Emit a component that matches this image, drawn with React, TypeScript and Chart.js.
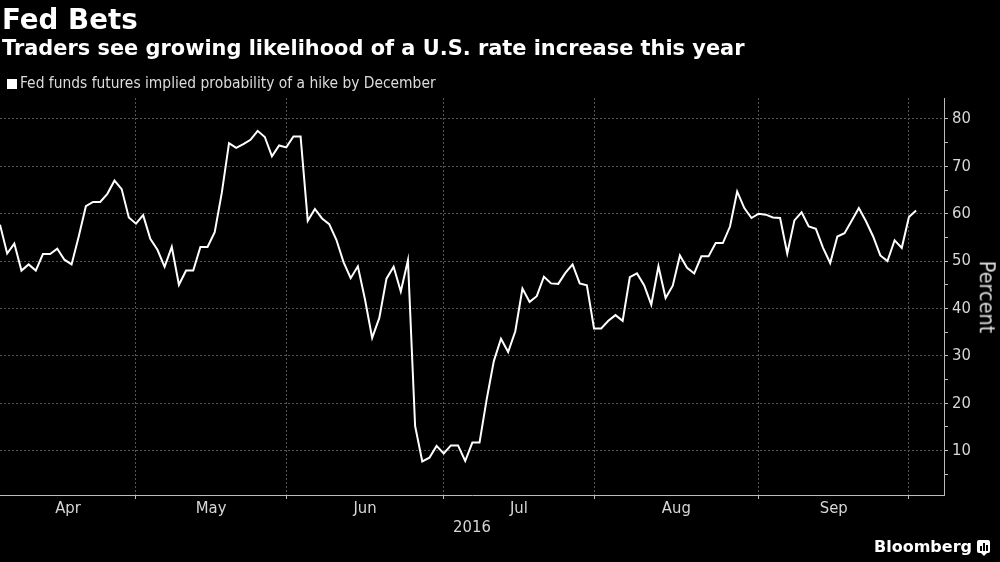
import React, { useEffect, useRef } from 'react';
import { Chart, registerables } from 'chart.js';

Chart.register(...registerables);

// Fed funds futures implied probability of a hike by December (%), one value per trading day
const probability = [
  57.7, 51.6, 53.7, 48.0, 49.3, 48.0, 51.5, 51.5, 52.6, 50.3,
  49.3, 55.2, 61.6, 62.5, 62.5, 64.2, 67.0, 65.2, 59.2, 57.9,
  59.7, 54.7, 52.4, 48.8, 53.0, 45.0, 48.0, 48.0, 53.0, 53.0,
  56.1, 64.5, 74.9, 73.9, 74.7, 75.6, 77.5, 76.2, 72.1, 74.4,
  74.0, 76.3, 76.3, 58.5, 61.0, 59.0, 57.8, 54.5, 49.8, 46.4,
  48.9, 41.9, 33.8, 38.0, 46.3, 48.8, 43.6, 50.2, 15.2, 7.7,
  8.5, 11.0, 9.4, 11.1, 11.1, 7.8, 11.7, 11.7, 20.8, 28.9,
  33.6, 30.8, 35.2, 44.2, 41.4, 42.6, 46.7, 45.3, 45.2, 47.5,
  49.3, 45.3, 44.9, 35.8, 35.8, 37.4, 38.6, 37.4, 46.6, 47.4,
  44.9, 40.8, 48.9, 42.2, 44.8, 51.2, 48.6, 47.4, 51.0, 51.0,
  53.8, 53.8, 57.3, 64.7, 61.2, 59.1, 60.0, 59.8, 59.2, 59.1,
  51.6, 58.6, 60.3, 57.3, 56.8, 52.8, 49.6, 55.2, 55.9, 58.5,
  61.2, 58.4, 55.2, 51.2, 50.0, 54.4, 52.8, 59.3, 60.7,
];

// Month labels and their positions (in trading-day index units)
const monthLabels = ['Apr', 'May', 'Jun', 'Jul', 'Aug', 'Sep'];
const monthCenters = [9.5, 29.5, 51, 72.5, 94.5, 116.5];
const monthBoundaries = [19, 40, 62, 83, 106, 127];
const yearLabel = '2016';

// Y axis ticks: labels every 10, minor marks every 5
const yTickValues = [5, 10, 15, 20, 25, 30, 35, 40, 45, 50, 55, 60, 65, 70, 75, 80];
const yMin = 0.63;
const yMax = 84.43;
const xMax = 131.9;

const condensed = "'DejaVu Sans Condensed', 'DejaVu Sans', sans-serif";
const sans = "'DejaVu Sans', sans-serif";

export default function App() {
  const canvasRef = useRef<HTMLCanvasElement | null>(null);

  useEffect(() => {
    const canvas = canvasRef.current;
    if (!canvas) return;
    const points = probability.map((v, i) => ({ x: i, y: v }));
    const isBoundary = (v: number | undefined) =>
      v !== undefined && monthBoundaries.includes(v);

    const chart = new Chart(canvas, {
      type: 'line',
      data: {
        datasets: [
          {
            data: points,
            borderColor: '#ffffff',
            borderWidth: 2,
            pointRadius: 0,
            tension: 0,
            fill: false,
          },
        ],
      },
      options: {
        animation: false,
        responsive: false,
        devicePixelRatio: 1,
        layout: { padding: { top: 98, left: 0, right: 0, bottom: 0 } },
        plugins: {
          legend: { display: false },
          tooltip: { enabled: false },
          title: { display: false },
        },
        scales: {
          x: {
            type: 'linear',
            position: 'bottom',
            min: 0,
            max: xMax,
            afterBuildTicks: (scale: any) => {
              const vals = [...monthBoundaries, ...monthCenters].sort((a, b) => a - b);
              scale.ticks = vals.map((v) => ({ value: v }));
            },
            afterFit: (scale: any) => {
              scale.height = 67;
            },
            grid: {
              color: (c: any) => (isBoundary(c.tick?.value) ? '#555555' : 'rgba(0,0,0,0)'),
              tickColor: (c: any) => (isBoundary(c.tick?.value) ? '#bbbbbb' : 'rgba(0,0,0,0)'),
              tickLength: 4,
              lineWidth: 1,
              drawTicks: true,
            },
            border: { display: true, color: '#bbbbbb', width: 1, dash: [2, 2] },
            ticks: {
              autoSkip: false,
              maxRotation: 0,
              minRotation: 0,
              padding: 0,
              color: '#d6d6d6',
              font: { family: condensed, size: 16.5 },
              callback: (value: any) => {
                const idx = monthCenters.indexOf(Number(value));
                return idx >= 0 ? monthLabels[idx] : '';
              },
            },
            title: {
              display: true,
              text: yearLabel,
              color: '#d6d6d6',
              font: { family: condensed, size: 16.5 },
              padding: { top: 0, bottom: 24 },
            },
          },
          y: {
            type: 'linear',
            position: 'right',
            min: yMin,
            max: yMax,
            afterBuildTicks: (scale: any) => {
              scale.ticks = yTickValues.map((v) => ({ value: v }));
            },
            afterFit: (scale: any) => {
              scale.width = 56;
            },
            grid: {
              color: (c: any) =>
                c.tick && c.tick.value % 10 === 0 ? '#555555' : 'rgba(0,0,0,0)',
              tickColor: '#bbbbbb',
              tickLength: 4,
              lineWidth: 1,
              drawTicks: true,
            },
            border: { display: true, color: '#bbbbbb', width: 1, dash: [2, 2] },
            ticks: {
              autoSkip: false,
              padding: 4,
              color: '#d6d6d6',
              font: { family: condensed, size: 16.5 },
              callback: (value: any) => (Number(value) % 10 === 0 ? String(value) : ''),
            },
          },
        },
      },
    } as any);

    return () => chart.destroy();
  }, []);

  return (
    <div
      style={{
        position: 'absolute',
        left: 0,
        top: 0,
        width: 1000,
        height: 562,
        background: '#000000',
        overflow: 'hidden',
      }}
    >
      <canvas
        ref={canvasRef}
        width={1000}
        height={562}
        style={{ position: 'absolute', left: 0, top: 0, width: 1000, height: 562 }}
      />
      <div
        style={{
          position: 'absolute',
          left: 2,
          top: 6,
          fontFamily: sans,
          fontWeight: 'bold',
          fontSize: 27.7,
          lineHeight: '27.7px',
          color: '#ffffff',
          whiteSpace: 'nowrap',
        }}
      >
        Fed Bets
      </div>
      <div
        style={{
          position: 'absolute',
          left: 2,
          top: 38,
          fontFamily: sans,
          fontWeight: 'bold',
          fontSize: 20.9,
          lineHeight: '20.9px',
          color: '#ffffff',
          whiteSpace: 'nowrap',
        }}
      >
        Traders see growing likelihood of a U.S. rate increase this year
      </div>
      <div
        style={{
          position: 'absolute',
          left: 7,
          top: 79,
          width: 10,
          height: 10,
          background: '#ffffff',
        }}
      />
      <div
        style={{
          position: 'absolute',
          left: 20,
          top: 76,
          fontFamily: condensed,
          fontSize: 15.4,
          lineHeight: '15.4px',
          color: '#dcdcdc',
          whiteSpace: 'nowrap',
        }}
      >
        Fed funds futures implied probability of a hike by December
      </div>
      <div
        style={{
          position: 'absolute',
          left: 987,
          top: 297,
          transform: 'translate(-50%, -50%) rotate(90deg)',
          fontFamily: condensed,
          fontSize: 21.5,
          lineHeight: '21.5px',
          color: '#dcdcdc',
          whiteSpace: 'nowrap',
        }}
      >
        Percent
      </div>
      <div
        style={{
          position: 'absolute',
          left: 874,
          top: 538,
          fontFamily: sans,
          fontWeight: 'bold',
          fontSize: 16,
          lineHeight: '18px',
          color: '#ffffff',
          whiteSpace: 'nowrap',
        }}
      >
        Bloomberg
      </div>
      <div
        style={{
          position: 'absolute',
          left: 977,
          top: 540,
          width: 13,
          height: 13,
          background: '#ffffff',
          borderRadius: 2,
        }}
      >
        <div style={{ position: 'absolute', left: 3, top: 6, width: 1.5, height: 5, background: '#000' }} />
        <div style={{ position: 'absolute', left: 6, top: 3, width: 1.5, height: 8, background: '#000' }} />
        <div style={{ position: 'absolute', left: 9, top: 5, width: 1.5, height: 6, background: '#000' }} />
      </div>
      <div
        style={{
          position: 'absolute',
          left: 981,
          top: 553,
          width: 0,
          height: 0,
          borderLeft: '3px solid transparent',
          borderRight: '3px solid transparent',
          borderTop: '3px solid #ffffff',
        }}
      />
    </div>
  );
}
